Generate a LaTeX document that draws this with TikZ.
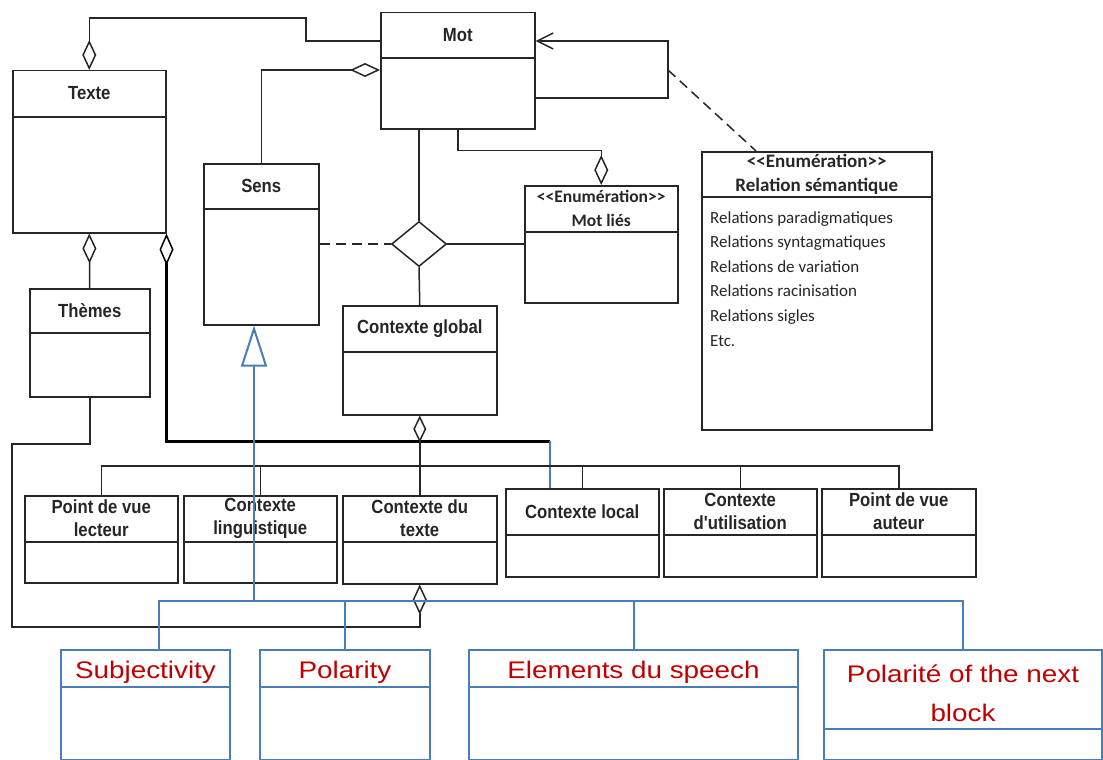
\documentclass[tikz,border=0pt]{standalone}
\usepackage{fontspec}
\setmainfont{Liberation Sans}
\newfontfamily\titlefont[FakeStretch=0.88]{Liberation Sans}
\newfontfamily\calfont{Carlito}
\newfontfamily\redfont[FakeStretch=1.16]{Liberation Sans}
\usetikzlibrary{arrows.meta,shapes.geometric,calc}
\definecolor{umlblue}{RGB}{74,126,187}
\definecolor{umlred}{RGB}{192,0,0}
\newcommand{\stereo}[1]{<\kern0pt<#1>\kern0pt>}

\begin{document}
\begin{tikzpicture}[x=1pt,y=-1pt,
		classbox/.style={draw=black!85,line width=1.5pt,inner sep=0pt,anchor=north west},
		bluebox/.style={draw=umlblue,line width=2pt,inner sep=0pt,anchor=north west},
		classline/.style={draw=black!85,line width=1.5pt},
		blueline/.style={draw=umlblue,line width=2pt},
		classtitle/.style={text=black!85,font=\titlefont\bfseries\fontsize{19}{23}\selectfont,align=center,inner sep=0pt},
		enumtitle/.style={text=black!85,font=\calfont\bfseries\fontsize{19}{24}\selectfont,align=center,inner sep=0pt},
		redtitle/.style={text=umlred,font=\redfont\fontsize{24}{39}\selectfont,align=center,inner sep=0pt,yshift=-4pt},
		aggfrom/.style={classline,{Diamond[open,length=30pt,width=14pt,line width=1.5pt]}-},
		aggto/.style={classline,-{Diamond[open,length=30pt,width=14pt,line width=1.5pt]}}]
		\useasboundingbox (0,0) rectangle (1103,760);
		% classes
		\foreach \n/\xa/\ya/\xb/\yb/\yd/\t in {
			mot/380/12/534/128/58/{Mot},
			texte/12/70/165/232/117/{Texte},
			sens/203/163/318/324/209/{Sens},
			themes/29/288/149/396/333/{Thèmes},
			global/342/305/496/414/352/{Contexte global},
			plecteur/24/495/177/582/542/{Point de vue\\lecteur},
			cling/183/495/336/582/542/{Contexte\\linguistique},
			ctexte/342/495/496/583/542/{Contexte du\\texte},
			local/505/488/658/576/535/{Contexte local},
			cutil/663/488/816/576/535/{Contexte\\d'utilisation},
			pauteur/821/488/975/576/535/{Point de vue\\auteur}}{
			\node[classbox,minimum width={(\xb-\xa)*1pt},minimum height={(\yb-\ya)*1pt}] (\n) at (\xa,\ya) {};
			\draw[classline] (\n.west |- 0,\yd) -- (\n.east |- 0,\yd);
			\node[classtitle] (\n-title) at ($(\n.north)!0.5!(\n.north |- 0,\yd)$) {\t};
		}
		% enumerations
		\node[classbox,minimum width=153pt,minimum height=117pt] (motlies) at (524,185) {};
		\draw[classline] (motlies.west |- 0,232) -- (motlies.east |- 0,232);
		\node[enumtitle,font=\calfont\bfseries\fontsize{17.5}{24}\selectfont] (motlies-title) at ($(motlies.north)!0.5!(motlies.north |- 0,232)$) {\stereo{Enumération}\\Mot liés};
		\node[classbox,minimum width=230pt,minimum height=278pt] (relsem) at (701,151) {};
		\draw[classline] (relsem.west |- 0,197) -- (relsem.east |- 0,197);
		\node[enumtitle] (relsem-title) at ($(relsem.north)!0.5!(relsem.north |- 0,197)$) {\stereo{Enumération}\\Relation sémantique};
		\node[anchor=north west,inner sep=0pt,align=left,text=black!85,font=\calfont\fontsize{17}{24.6}\selectfont] (relitems) at (710,211) {Relations paradigmatiques\\Relations syntagmatiques\\Relations de variation\\Relations racinisation\\Relations sigles\\Etc.};
		% new classes
		\foreach \n/\xa/\ya/\xb/\yb/\yd/\t in {
			subj/60/649/229/759/687/{Subjectivity},
			polar/259/649/429/759/687/{Polarity},
			elem/468/649/797/759/687/{Elements du speech},
			pnext/823/649/1101/759/729/{Polarité of the next\\block}}{
			\node[bluebox,minimum width={(\xb-\xa)*1pt},minimum height={(\yb-\ya)*1pt}] (\n) at (\xa,\ya) {};
			\draw[blueline] (\n.west |- 0,\yd) -- (\n.east |- 0,\yd);
			\node[redtitle] (\n-title) at ($(\n.north)!0.5!(\n.north |- 0,\yd)$) {\t};
		}
		% associations around Mot
		\draw[aggfrom] (texte.north) |- (306,18) |- (mot.west |- 0,41);
		\draw[aggto] (sens.north) |- (mot.west |- 0,70);
		\node[diamond,draw=black!85,line width=1.5pt,minimum width=55pt,minimum height=45pt,inner sep=0pt] (rel) at (419,244) {};
		\draw[classline] (rel.north |- mot.south) -- (rel.north);
		\draw[classline,dash pattern=on 10pt off 6pt] (sens.east |- rel) -- (rel.west);
		\draw[classline] (rel.east) -- (motlies.west |- rel);
		\draw[classline] (rel.south) -- (global.north);
		\draw[aggto] (mot.south) -- ++(0,21) -| (motlies.north);
		\coordinate (loop) at (668,41);
		\coordinate (assoc) at (668,70);
		\draw[classline,-{Straight Barb[length=16pt,width=16pt,line width=1.5pt]}] (mot.east |- 0,98) -| (loop) -- (mot.east |- loop);
		\draw[classline,dash pattern=on 10pt off 6pt] (assoc) -- ($(relsem.north west)+(55,0)$);
		% Texte
		\draw[aggfrom] (texte.south) -- (themes.north);
		\coordinate (joint) at (550,441);
		\draw[draw=black,line width=3pt,{Diamond[open,length=32pt,width=14pt,line width=1.5pt]}-] (texte.south east) |- (joint);
		\draw[blueline] (joint) -- (local.north -| joint);
		% contexts
		\draw[classline,{Diamond[open,length=27pt,width=13pt,line width=1.5pt]}-] (global.south) -- (ctexte.north);
		\coordinate (bar) at (0,466);
		\draw[classline] (plecteur.north) -- (plecteur.north |- bar) -| (pauteur.north);
		\foreach \n in {cling,local,cutil}
			\draw[classline] (\n.north) -- (\n.north |- bar);
		\draw[aggto] (themes.south) |- (12,444) |- (ctexte.south |- 0,627) -- (ctexte.south);
		% specialisation of Sens
		\coordinate (gbar) at (0,601);
		\coordinate (sensfoot) at ($(sens.south west)+(51,0)$);
		\draw[blueline,-{Triangle[open,length=41pt,width=26pt,line width=2pt]}] (sensfoot |- gbar) -- (sensfoot);
		\draw[blueline] ($(subj.north)+(13,0)$) |- (gbar -| pnext) -- (pnext.north);
		\draw[blueline] (polar.north) -- (polar.north |- gbar);
		\draw[blueline] (elem.north) -- (elem.north |- gbar);
	\end{tikzpicture}
\end{document}
